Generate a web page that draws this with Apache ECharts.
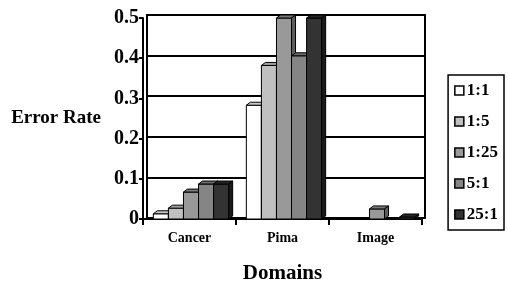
<!DOCTYPE html>
<html>
<head>
<meta charset="utf-8">
<script src="https://cdn.jsdelivr.net/npm/echarts@6/dist/echarts.min.js"></script>
<style>
  html, body { margin: 0; padding: 0; background: #fff; }
  #main { width: 508px; height: 286px; }
</style>
</head>
<body>
<div id="main"></div>
<script>
var chart = echarts.init(document.getElementById('main'));

// categories and series (error rate per domain, per cost ratio)
var domains = ['Cancer', 'Pima', 'Image'];
var ratioNames = ['1:1', '1:5', '1:25', '5:1', '25:1'];
var rate_1_1  = [0.013, 0.283, 0.0];
var rate_1_5  = [0.027, 0.382, 0.0];
var rate_1_25 = [0.067, 0.5, 0.025];
var rate_5_1  = [0.087, 0.406, 0.0];
var rate_25_1 = [0.087, 0.5, 0.005];
var allRates = [rate_1_1, rate_1_5, rate_1_25, rate_5_1, rate_25_1];

var fronts = ['#ffffff', '#c0c0c0', '#999999', '#858585', '#333333'];
var tops   = ['#c8c8c8', '#a0a0a0', '#7a7a7a', '#6a6a6a', '#262626'];
var sides  = ['#a0a0a0', '#808080', '#5e5e5e', '#4e4e4e', '#1a1a1a'];

var FONT = '"Liberation Serif", "Times New Roman", serif';

function bar3d(si) {
  return function (params, api) {
    var cat = api.value(0), v = api.value(1);
    if (!v) return null; // nothing drawn for zero error
    var base = api.coord([cat, 0]);
    var top = api.coord([cat, v]);
    var band = api.size([1, 0])[0];
    var w = band * 0.162;
    var x0 = base[0] - 2.4 * w + si * w;
    var y0 = base[1], y1 = top[1];
    var dx = 4, dy = 3;
    var st = { stroke: '#000', lineWidth: 1 };
    return {
      type: 'group',
      children: [
        { type: 'rect', shape: { x: x0, y: y1, width: w, height: y0 - y1 },
          style: Object.assign({ fill: fronts[si] }, st) },
        { type: 'polygon', shape: { points: [[x0, y1], [x0 + dx, y1 - dy], [x0 + w + dx, y1 - dy], [x0 + w, y1]] },
          style: Object.assign({ fill: tops[si] }, st) },
        { type: 'polygon', shape: { points: [[x0 + w, y1], [x0 + w + dx, y1 - dy], [x0 + w + dx, y0 - dy], [x0 + w, y0]] },
          style: Object.assign({ fill: sides[si] }, st) }
      ]
    };
  };
}

var option = {
  animation: false,
  textStyle: { fontFamily: FONT },
  grid: [
    // front (axes, bars)
    { left: 143, right: 86, top: 18, bottom: 67, outerBoundsMode: 'none' },
    // back wall, shifted up-right
    { left: 147, right: 83, top: 15, bottom: 68, outerBoundsMode: 'none',
      show: true, borderColor: '#000', borderWidth: 2 }
  ],
  xAxis: [
    {
      gridIndex: 0, type: 'category', data: domains,
      axisLine: { lineStyle: { color: '#000', width: 2 } },
      axisTick: { show: true, length: 6, lineStyle: { color: '#000', width: 2 } },
      axisLabel: { color: '#000', fontFamily: FONT, fontWeight: 'bold', fontSize: 14, margin: 12 },
      name: 'Domains', nameLocation: 'middle', nameGap: 44,
      nameTextStyle: { color: '#000', fontFamily: FONT, fontWeight: 'bold', fontSize: 21 }
    },
    { gridIndex: 1, type: 'category', data: domains, show: false }
  ],
  yAxis: [
    {
      gridIndex: 0, type: 'value', min: 0, max: 0.5, interval: 0.1,
      axisLine: { show: true, lineStyle: { color: '#000', width: 2 } },
      axisTick: { show: true, length: 4, lineStyle: { color: '#000', width: 2 } },
      splitLine: { show: false },
      axisLabel: {
        color: '#000', fontFamily: FONT, fontWeight: 'bold', fontSize: 20, margin: 4,
        formatter: function (v) { return v === 0 ? '0' : v.toFixed(1); }
      },
      name: 'Error Rate', nameLocation: 'middle', nameRotate: 0, nameGap: 42,
      nameTextStyle: { color: '#000', fontFamily: FONT, fontWeight: 'bold', fontSize: 19, align: 'right', padding: [0, 0, 8, 0] }
    },
    {
      gridIndex: 1, type: 'value', min: 0, max: 0.5, interval: 0.1,
      axisLine: { show: false }, axisTick: { show: false }, axisLabel: { show: false },
      splitLine: { show: true, lineStyle: { color: '#000', width: 2 } }
    }
  ],
  legend: {
    orient: 'vertical', right: 4, top: 75,
    data: ratioNames,
    icon: 'rect', itemWidth: 9, itemHeight: 9, itemGap: 14,
    padding: [7, 6, 7, 6],
    borderColor: '#000', borderWidth: 1.5,
    itemStyle: { borderColor: '#000', borderWidth: 1.5 },
    textStyle: { color: '#000', fontFamily: FONT, fontWeight: 'bold', fontSize: 17, padding: [0, 0, 0, -2] }
  },
  series: ratioNames.map(function (name, i) {
    return {
      name: name, type: 'custom',
      xAxisIndex: 0, yAxisIndex: 0,
      clip: false,
      itemStyle: { color: fronts[i], borderColor: '#000', borderWidth: 1 },
      renderItem: bar3d(i),
      encode: { x: 0, y: 1 },
      data: allRates[i].map(function (v, j) { return [j, v]; })
    };
  })
};

chart.setOption(option);
</script>
</body>
</html>
